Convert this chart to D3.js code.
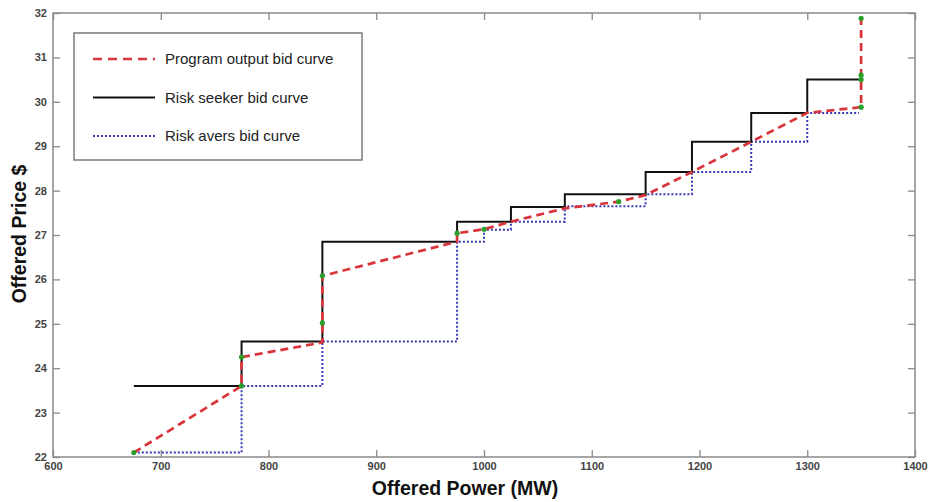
<!DOCTYPE html>
<html lang="en">
<meta charset="utf-8">
<head>
    <style>
        body { margin: 0; background: #fff; }
        svg { font-family: "Liberation Sans", Arial, sans-serif; }
    </style>
    <script src="https://d3js.org/d3.v7.min.js"></script>
</head>
<body>
</body>
<script>
    // data
    var seekerPower = [675, 775, 850, 975, 1025, 1075, 1150, 1193, 1248, 1300, 1350];
    var seekerPrice = [23.6, 24.6, 26.85, 27.3, 27.63, 27.92, 28.42, 29.1, 29.75, 30.5, 30.5];

    var aversPower = [675, 775, 850, 975, 1000, 1025, 1075, 1150, 1193, 1248, 1300, 1348];
    var aversPrice = [22.1, 23.6, 24.6, 26.85, 27.12, 27.3, 27.65, 27.92, 28.42, 29.1, 29.75, 29.75];

    var programPower = [675, 775, 775, 850, 850, 850, 975, 975, 1000, 1025, 1075, 1125, 1150, 1193, 1248, 1300, 1350, 1350, 1350, 1350];
    var programPrice = [22.1, 23.6, 24.25, 24.58, 25.02, 26.08, 26.85, 27.04, 27.13, 27.3, 27.6, 27.75, 27.9, 28.42, 29.1, 29.75, 29.88, 30.5, 30.6, 31.88];

    var markerPower = [675, 775, 775, 850, 850, 975, 1000, 1125, 1350, 1350, 1350, 1350];
    var markerPrice = [22.1, 23.6, 24.25, 25.02, 26.08, 27.04, 27.13, 27.75, 29.88, 30.5, 30.6, 31.88];

    var xTicks = [600, 700, 800, 900, 1000, 1100, 1200, 1300, 1400];
    var yTicks = [22, 23, 24, 25, 26, 27, 28, 29, 30, 31, 32];

    var legendNames = ["Program output bid curve", "Risk seeker bid curve", "Risk avers bid curve"];

    // sizes (plot box edges)
    var svgWidth = 929, svgHeight = 502;
    var padL = 53, padR = 915, padT = 13, padB = 457;

    var svg = d3.select("body").append("svg")
        .attr("width", svgWidth)
        .attr("height", svgHeight);

    var x = d3.scaleLinear().domain([600, 1400]).range([padL, padR]);
    var y = d3.scaleLinear().domain([22, 32]).range([padB, padT]);

    // ticks pointing inwards, matlab style
    var tickLen = 7;
    svg.append("g")
        .attr("transform", "translate(0," + padB + ")")
        .call(d3.axisBottom(x).tickValues(xTicks).tickFormat(d3.format("d")).tickSizeInner(-tickLen).tickSizeOuter(0).tickPadding(5))
        .call(styleAxis);
    svg.append("g")
        .attr("transform", "translate(0," + padT + ")")
        .call(d3.axisTop(x).tickValues(xTicks).tickSizeInner(-tickLen).tickSizeOuter(0).tickFormat(""))
        .call(styleAxis);
    svg.append("g")
        .attr("transform", "translate(" + padL + ",0)")
        .call(d3.axisLeft(y).tickValues(yTicks).tickSizeInner(-tickLen).tickSizeOuter(0).tickPadding(6))
        .call(styleAxis);
    svg.append("g")
        .attr("transform", "translate(" + padR + ",0)")
        .call(d3.axisRight(y).tickValues(yTicks).tickSizeInner(-tickLen).tickSizeOuter(0).tickFormat(""))
        .call(styleAxis);

    function styleAxis(g) {
        g.select(".domain").remove();
        g.selectAll(".tick line").attr("stroke", "#8a8a8a").attr("stroke-width", 1.3);
        g.selectAll(".tick text")
            .attr("fill", "#444")
            .style("font-size", "11px")
            .style("font-weight", "bold");
    }

    // frame
    svg.append("rect")
        .attr("x", padL).attr("y", padT)
        .attr("width", padR - padL).attr("height", padB - padT)
        .attr("fill", "none")
        .attr("stroke", "#8a8a8a")
        .attr("stroke-width", 1.5);

    var stepLine = d3.line()
        .x(function (d) { return x(d[0]); })
        .y(function (d) { return y(d[1]); })
        .curve(d3.curveStepAfter);
    var plainLine = d3.line()
        .x(function (d) { return x(d[0]); })
        .y(function (d) { return y(d[1]); });

    // risk avers (blue dotted)
    svg.append("path")
        .attr("d", stepLine(d3.zip(aversPower, aversPrice)))
        .attr("fill", "none")
        .attr("stroke", "#3a3ab8")
        .attr("stroke-width", 2)
        .attr("stroke-dasharray", "2,2");

    // risk seeker (black)
    svg.append("path")
        .attr("d", stepLine(d3.zip(seekerPower, seekerPrice)))
        .attr("fill", "none")
        .attr("stroke", "#111")
        .attr("stroke-width", 2);

    // program output (red dashed)
    svg.append("path")
        .attr("d", plainLine(d3.zip(programPower, programPrice)))
        .attr("fill", "none")
        .attr("stroke", "#d8343a")
        .attr("stroke-width", 2.7)
        .attr("stroke-dasharray", "8,5");

    svg.selectAll("circle.mk")
        .data(d3.zip(markerPower, markerPrice))
        .enter().append("circle")
        .attr("class", "mk")
        .attr("cx", function (d) { return x(d[0]); })
        .attr("cy", function (d) { return y(d[1]); })
        .attr("r", 2.6)
        .attr("fill", "#2aa02a");

    // legend
    var lg = svg.append("g").attr("transform", "translate(74,33)");
    lg.append("rect")
        .attr("width", 288).attr("height", 127)
        .attr("fill", "#fff")
        .attr("stroke", "#666")
        .attr("stroke-width", 1.3);
    var legendStyles = [
        { stroke: "#d8343a", width: 2.7, dash: "9,6" },
        { stroke: "#111", width: 2, dash: null },
        { stroke: "#3a3ab8", width: 2, dash: "2,2" }
    ];
    legendNames.forEach(function (name, i) {
        var ly = 26 + i * 38.5;
        lg.append("line")
            .attr("x1", 19).attr("x2", 81)
            .attr("y1", ly).attr("y2", ly)
            .attr("stroke", legendStyles[i].stroke)
            .attr("stroke-width", legendStyles[i].width)
            .attr("stroke-dasharray", legendStyles[i].dash);
        lg.append("text")
            .attr("x", 91).attr("y", ly)
            .attr("dy", "0.35em")
            .attr("fill", "#222")
            .style("font-size", "15px")
            .text(name);
    });

    // axis titles
    svg.append("text")
        .attr("x", 465).attr("y", 495)
        .attr("text-anchor", "middle")
        .style("font-size", "19.5px")
        .style("font-weight", "bold")
        .attr("fill", "#111")
        .text("Offered Power (MW)");
    svg.append("text")
        .attr("transform", "translate(26,234) rotate(-90)")
        .attr("text-anchor", "middle")
        .style("font-size", "19.5px")
        .style("font-weight", "bold")
        .attr("fill", "#111")
        .text("Offered Price $");
</script>
</html>
